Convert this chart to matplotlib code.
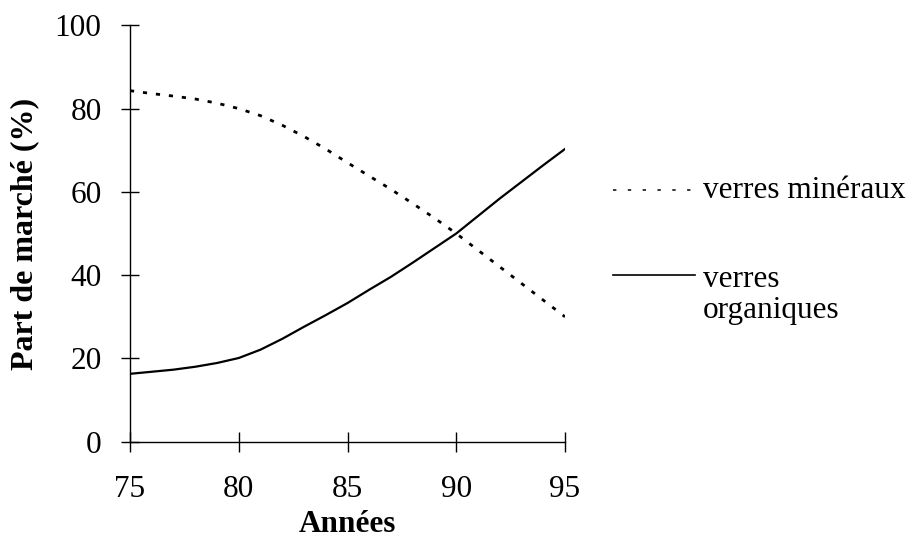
import matplotlib
matplotlib.use("Agg")
import matplotlib.pyplot as plt
from matplotlib.lines import Line2D

years = [75, 76, 77, 78, 79, 80, 81, 82, 83, 84, 85, 86, 87, 88, 89, 90, 91, 92, 93, 94, 95]
mineraux = [84.3, 83.6, 83.0, 82.3, 81.3, 80.0, 78.3, 76.0, 73.3, 70.3, 67.0, 63.8, 60.6,
            57.2, 53.7, 50.0, 46.0, 42.0, 38.0, 34.0, 30.0]
organiques = [16.3, 16.8, 17.3, 18.0, 18.9, 20.1, 22.1, 24.7, 27.6, 30.4, 33.3, 36.5, 39.6,
              43.0, 46.5, 50.0, 54.2, 58.4, 62.4, 66.4, 70.3]
xticks = [75, 80, 85, 90, 95]
yticks = [0, 20, 40, 60, 80, 100]
label_min = "verres minéraux"
label_org = "verres\norganiques"

plt.rcParams['font.family'] = ['Liberation Serif', 'DejaVu Serif']

fig = plt.figure(figsize=(9.09, 5.37), dpi=100)
ax = fig.add_axes([130/909, 1-441.7/537, 435/909, (441.7-25.3)/537])

ax.plot(years, mineraux, color='black', lw=2.0, linestyle=(0, (1.5, 3.2)),
        dash_capstyle='butt')
ax.plot(years, organiques, color='black', lw=1.6, solid_joinstyle='round')

ax.set_xlim(75, 95)
ax.set_ylim(0, 100)
ax.set_xticks(xticks)
ax.set_yticks(yticks)
ax.spines['top'].set_visible(False)
ax.spines['right'].set_visible(False)
for s in ('left', 'bottom'):
    ax.spines[s].set_linewidth(1.0)
ax.tick_params(axis='y', direction='inout', length=13, width=1.0, pad=14, labelsize=22.5)
ax.tick_params(axis='x', direction='inout', length=14, width=1.0, pad=17, labelsize=22.5)
ax.set_xlabel("Années", fontsize=22.5, fontweight='bold', labelpad=4)
ax.set_ylabel("Part de marché (%)", fontsize=23, fontweight='bold', labelpad=11)

# legend
fig.add_artist(Line2D([613/909, 698/909], [1-190/537, 1-190/537], color='black', lw=1.1,
                      linestyle=(0, (2.2, 7.5)), transform=fig.transFigure))
fig.text(703/909, 1-190/537, label_min, fontsize=22.5, va='center', ha='left')
fig.add_artist(Line2D([613/909, 695/909], [1-275/537, 1-275/537], color='black', lw=1.2,
                      transform=fig.transFigure))
fig.text(703/909, 1-265/537, label_org, fontsize=22.5, va='top', ha='left', linespacing=1.08)

fig.savefig("out.png", dpi=100, facecolor='white')
